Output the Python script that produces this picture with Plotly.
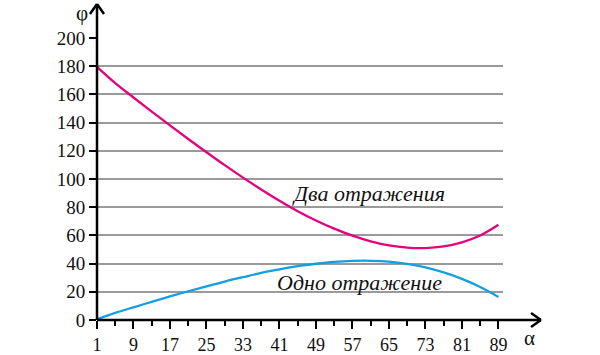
import plotly.graph_objects as go

alpha = [1, 5, 9, 13, 17, 21, 25, 29, 33, 37, 41, 45, 49, 53, 57, 61, 65, 69, 73, 77, 81, 85, 89]
one_reflection = [0.5, 5.0, 9.0, 12.9, 16.7, 20.4, 23.9, 27.3, 30.4, 33.4, 35.9, 38.2, 39.9, 41.2, 41.9,
                  42.0, 41.4, 39.8, 37.4, 33.8, 29.2, 23.4, 16.4]
two_reflections = [179.5, 168.0, 157.8, 147.8, 138.0, 128.4, 119.0, 109.8, 101.0, 92.6, 84.6, 77.2, 70.6,
                   64.8, 59.8, 55.8, 52.9, 51.3, 51.0, 52.2, 55.1, 59.9, 67.5]
x_ticks = [1, 9, 17, 25, 33, 41, 49, 57, 65, 73, 81, 89]
x_minor_ticks = [5, 13, 21, 29, 37, 45, 53, 61, 69, 77, 85]
y_ticks = [0, 20, 40, 60, 80, 100, 120, 140, 160, 180, 200]

PINK = "#e5007d"
BLUE = "#139fe0"
FONT = "'Liberation Serif', serif"
TXT = "#111111"

fig = go.Figure()
fig.add_trace(go.Scatter(x=alpha, y=two_reflections, mode="lines", line=dict(color=PINK, width=2.3, shape="spline"),
                         name="Два отражения"))
fig.add_trace(go.Scatter(x=alpha, y=one_reflection, mode="lines", line=dict(color=BLUE, width=2.3, shape="spline"),
                         name="Одно отражение"))

L, R, T, B = 97, 97, 38, 35
W, H = 600, 355
pw, ph = W - L - R, H - T - B


def px(xp):
    return (xp - L) / pw


def py(yp):
    return (H - B - yp) / ph


ax_line = dict(color="black", width=2.5)
shapes = [
    dict(type="line", xref="paper", yref="paper", x0=px(97), y0=py(320), x1=px(541), y1=py(320), line=ax_line),
    dict(type="line", xref="paper", yref="paper", x0=px(531), y0=py(313), x1=px(541), y1=py(320), line=ax_line),
    dict(type="line", xref="paper", yref="paper", x0=px(531), y0=py(327), x1=px(541), y1=py(320), line=ax_line),
    dict(type="line", xref="paper", yref="paper", x0=px(97), y0=py(320), x1=px(97), y1=py(4), line=ax_line),
    dict(type="line", xref="paper", yref="paper", x0=px(90), y0=py(14), x1=px(97), y1=py(4), line=ax_line),
    dict(type="line", xref="paper", yref="paper", x0=px(104), y0=py(14), x1=px(97), y1=py(4), line=ax_line),
]

annotations = [
    dict(text="Два отражения", x=px(368), y=py(193), xref="paper", yref="paper", showarrow=False,
         xanchor="center", yanchor="middle",
         font=dict(family=FONT, size=22, color=TXT, style="italic")),
    dict(text="Одно отражение", x=px(359), y=py(282), xref="paper", yref="paper", showarrow=False,
         xanchor="center", yanchor="middle",
         font=dict(family=FONT, size=22, color=TXT, style="italic")),
    dict(text="φ", x=px(82), y=py(13), xref="paper", yref="paper", showarrow=False,
         xanchor="center", yanchor="middle",
         font=dict(family=FONT, size=21, color=TXT)),
    dict(text="α", x=px(529), y=py(338), xref="paper", yref="paper", showarrow=False,
         xanchor="center", yanchor="middle",
         font=dict(family=FONT, size=21, color=TXT)),
]

fig.update_layout(
    width=W, height=H,
    autosize=False,
    margin=dict(l=L, r=R, t=T, b=B, autoexpand=False),
    paper_bgcolor="white", plot_bgcolor="white",
    showlegend=False,
    font=dict(family=FONT, size=18, color=TXT),
    shapes=shapes,
    annotations=annotations,
    xaxis=dict(range=[1, 90], tickvals=x_ticks, ticktext=[str(v) for v in x_ticks], automargin=False,
               ticks="outside", ticklen=8, tickwidth=2, tickcolor="black",
               minor=dict(tickvals=x_minor_ticks, ticks="outside", ticklen=5,
                          tickwidth=2, tickcolor="black", showgrid=False),
               showgrid=False, zeroline=False, showline=False,
               tickfont=dict(family=FONT, size=18, color=TXT)),
    yaxis=dict(range=[0, 200], tickvals=y_ticks, ticks="outside", ticklen=7, tickwidth=2, tickcolor="black",
               automargin=False,
               showgrid=True, gridcolor="#9a9a9a", gridwidth=1.5, zeroline=False, showline=False,
               tickfont=dict(family=FONT, size=19, color=TXT)),
)

post = ("document.body.style.margin='0';document.body.style.overflow='hidden';"
        "var gd=document.getElementById('{plot_id}');Plotly.relayout(gd,{width:600,height:355});")
fig.write_html("out.html", post_script=post, config={"responsive": False, "displayModeBar": False})
